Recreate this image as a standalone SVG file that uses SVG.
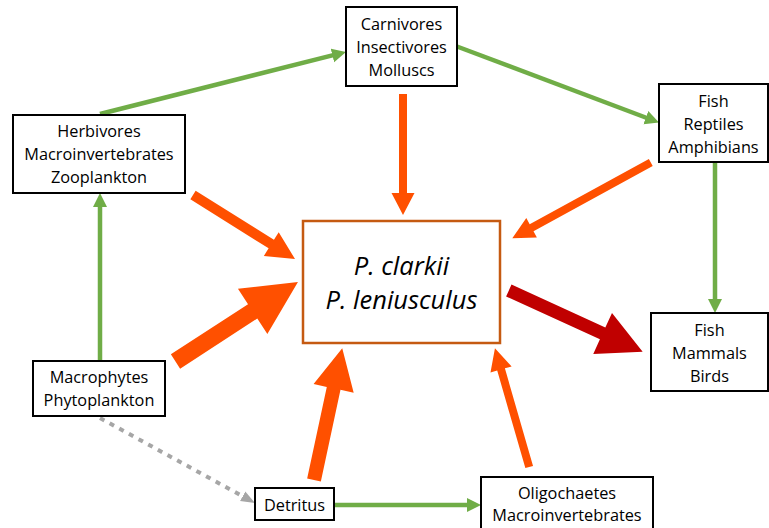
<svg xmlns="http://www.w3.org/2000/svg" width="769" height="528" viewBox="0 0 769 528">
<style>
.box{fill:#fff;stroke:#000;stroke-width:2}
.main{fill:#fff;stroke:#c55a11;stroke-width:2.5}
.t{font-family:"Open Sans","Liberation Sans",sans-serif;font-size:16.3px;fill:#000;text-anchor:middle}
.ti{font-family:"Open Sans","Liberation Sans",sans-serif;font-size:25.5px;font-style:italic;fill:#000;text-anchor:middle}
.g{stroke:#70ad47;stroke-width:4.5;fill:none;marker-end:url(#mg)}
.gr{stroke:#a6a6a6;stroke-width:4;fill:none;stroke-dasharray:5 6;marker-end:url(#mgr)}
.o{fill:#ff5000}
.r{fill:#c00000}
</style>
<defs>
<marker id="mg" markerUnits="userSpaceOnUse" markerWidth="16" markerHeight="16" viewBox="0 -8 16 16" refX="4" refY="0" orient="auto"><path d="M0,-7 L14,0 L0,7 z" fill="#70ad47"/></marker>
<marker id="mgr" markerUnits="userSpaceOnUse" markerWidth="16" markerHeight="16" viewBox="0 -8 16 16" refX="4" refY="0" orient="auto"><path d="M0,-5.5 L14,0 L0,5.5 z" fill="#a6a6a6"/></marker>
</defs>
<g id="connectors">
<line class="g" x1="100" y1="114" x2="336.3" y2="54.4"/>
<line class="g" x1="457" y1="46.5" x2="649.6" y2="119"/>
<line class="g" x1="715" y1="162" x2="715" y2="303"/>
<line class="g" x1="100" y1="361" x2="100" y2="203"/>
<line class="g" x1="334" y1="505" x2="471" y2="505"/>
<line class="gr" x1="100" y1="418" x2="246.2" y2="498.2"/>
<polygon class="o" transform="translate(193,195) rotate(32.1)" points="0,-5 92.4,-5 92.4,-14 120.4,0 92.4,14 92.4,5 0,5"/>
<polygon class="o" transform="translate(175.5,361.5) rotate(-33)" points="0,-8.5 92,-8.5 92,-27 146,0 92,27 92,8.5 0,8.5"/>
<polygon class="o" transform="translate(314,480) rotate(-77.9)" points="0,-7 93.7,-7 93.7,-20.5 134.7,0 93.7,20.5 93.7,7 0,7"/>
<polygon class="o" transform="translate(403,94) rotate(90)" points="0,-4 99,-4 99,-11.5 121,0 99,11.5 99,4 0,4"/>
<polygon class="o" transform="translate(650.8,162.5) rotate(151.3)" points="0,-4 135.9,-4 135.9,-11 157.9,0 135.9,11 135.9,4 0,4"/>
<polygon class="o" transform="translate(529.2,467) rotate(-106.1)" points="0,-4 101.5,-4 101.5,-11 123.5,0 101.5,11 101.5,4 0,4"/>
<polygon class="r" transform="translate(508.8,290.5) rotate(24.6)" points="0,-6.5 103.2,-6.5 103.2,-22.5 147.2,0 103.2,22.5 103.2,6.5 0,6.5"/>
</g>
<g id="carnivores">
<rect class="box" x="346" y="7" width="111" height="79"/>
<text class="t" x="401.5" y="30">Carnivores</text>
<text class="t" x="401.5" y="53">Insectivores</text>
<text class="t" x="401.5" y="76">Molluscs</text>
</g>
<g id="herbivores">
<rect class="box" x="13" y="115" width="172" height="78"/>
<text class="t" x="99" y="137">Herbivores</text>
<text class="t" x="99" y="160">Macroinvertebrates</text>
<text class="t" x="99" y="183">Zooplankton</text>
</g>
<g id="fish-reptiles">
<rect class="box" x="659" y="84" width="109" height="78"/>
<text class="t" x="713.5" y="107">Fish</text>
<text class="t" x="713.5" y="130">Reptiles</text>
<text class="t" x="713.5" y="153">Amphibians</text>
</g>
<g id="crayfish">
<rect class="main" x="303" y="221" width="197" height="122"/>
<text class="ti" x="401.5" y="275">P. clarkii</text>
<text class="ti" x="401.5" y="309">P. leniusculus</text>
</g>
<g id="macrophytes">
<rect class="box" x="33" y="361" width="132" height="55"/>
<text class="t" x="99" y="383">Macrophytes</text>
<text class="t" x="99" y="406">Phytoplankton</text>
</g>
<g id="detritus">
<rect class="box" x="255" y="488" width="79" height="32"/>
<text class="t" x="294.5" y="510.5">Detritus</text>
</g>
<g id="fish-mammals">
<rect class="box" x="651" y="313" width="117" height="78"/>
<text class="t" x="709.5" y="336">Fish</text>
<text class="t" x="709.5" y="358.5">Mammals</text>
<text class="t" x="709.5" y="381.5">Birds</text>
</g>
<g id="oligochaetes">
<rect class="box" x="481" y="477" width="172" height="60"/>
<text class="t" x="567" y="498.5">Oligochaetes</text>
<text class="t" x="567" y="521">Macroinvertebrates</text>
</g>
</svg>
